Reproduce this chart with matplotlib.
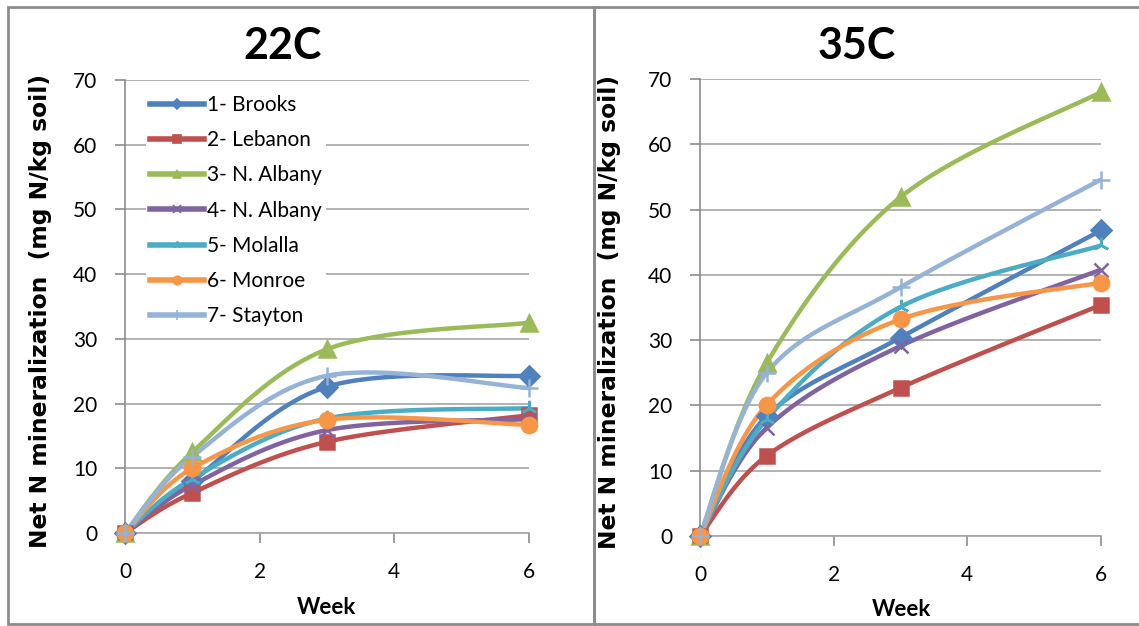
import numpy as np
import matplotlib
matplotlib.use("Agg")
import matplotlib.pyplot as plt
from matplotlib.lines import Line2D
from matplotlib.patches import Rectangle

weeks = [0, 1, 3, 6]
sites = ['1- Brooks', '2- Lebanon', '3- N. Albany', '4- N. Albany',
         '5- Molalla', '6- Monroe', '7- Stayton']

n22 = [
    [0, 8.0, 22.6, 24.3],
    [0, 6.2, 14.1, 18.2],
    [0, 12.5, 28.4, 32.5],
    [0, 7.4, 15.9, 17.6],
    [0, 8.4, 17.7, 19.3],
    [0, 10.0, 17.5, 16.7],
    [0, 11.8, 24.3, 22.4],
]
n35 = [
    [0, 18.4, 30.4, 46.8],
    [0, 12.3, 22.7, 35.4],
    [0, 26.5, 51.9, 68.0],
    [0, 16.6, 29.1, 40.8],
    [0, 17.9, 35.1, 44.5],
    [0, 20.1, 33.2, 38.8],
    [0, 25.0, 38.1, 54.6],
]

colors = ['#4F81BD', '#C0504D', '#9BBB59', '#8064A2', '#4BACC6', '#F79646', '#95B3D7']
markers = ['D', 's', '^', 'x', (3, 2, 0), 'o', '+']
msizes = [10, 10, 11, 10, 11, 11, 13]


def smooth(x, y, n=30):
    # excel style smoothed line (catmull-rom bezier)
    pts = np.column_stack([x, y]).astype(float)
    P = np.vstack([pts[0], pts, pts[-1]])
    t = np.linspace(0, 1, n)[:, None]
    out = []
    for i in range(1, len(P) - 2):
        p0, p1, p2, p3 = P[i - 1], P[i], P[i + 1], P[i + 2]
        c1 = p1 + (p2 - p0) / 6
        c2 = p2 - (p3 - p1) / 6
        seg = (1 - t) ** 3 * p1 + 3 * (1 - t) ** 2 * t * c1 + 3 * (1 - t) * t ** 2 * c2 + t ** 3 * p2
        out.append(seg)
    return np.vstack(out)


fig = plt.figure(figsize=(11.39, 6.26), dpi=100)

# panel frames
fig.patches.append(Rectangle((8 / 1139, 1 - 624 / 626), 586 / 1139, 617 / 626,
                             transform=fig.transFigure, fill=False, ec='#8c8c8c', lw=2))
fig.patches.append(Rectangle((594 / 1139, 1 - 624 / 626), 560 / 1139, 617 / 626,
                             transform=fig.transFigure, fill=False, ec='#8c8c8c', lw=2))

ax1 = fig.add_axes([125 / 1139, 1 - 533 / 626, 404 / 1139, 453 / 626])
ax2 = fig.add_axes([700 / 1139, 1 - 536 / 626, 401 / 1139, 457 / 626])

for ax, data, title, tx in [(ax1, n22, '22C', 283), (ax2, n35, '35C', 857)]:
    for vals, c, m, ms in zip(data, colors, markers, msizes):
        xy = smooth(weeks, vals)
        ax.plot(xy[:, 0], xy[:, 1], color=c, lw=3.2, solid_capstyle='round', zorder=3)
        ax.plot(weeks, vals, ls='none', marker=m, ms=ms, color=c, mec=c,
                mew=1.8, clip_on=False, zorder=4)
    ax.set_xlim(0, 6)
    ax.set_ylim(0, 70)
    ax.set_xticks([0, 2, 4, 6])
    ax.set_yticks(range(0, 71, 10))
    ax.grid(axis='y', color='#a6a6a6', lw=1.2)
    ax.set_axisbelow(True)
    for s in ['top', 'right']:
        ax.spines[s].set_visible(False)
    ax.spines['left'].set_color('#8c8c8c')
    ax.spines['bottom'].set_color('#a6a6a6')
    ax.spines['left'].set_linewidth(1.2)
    ax.spines['bottom'].set_linewidth(1.2)
    ax.tick_params(axis='x', length=7, width=1.2, color='#8c8c8c', pad=14,
                   labelsize=15)
    ax.tick_params(axis='y', length=7, width=1.2, color='#8c8c8c', pad=13,
                   labelsize=15)
    for lab in ax.get_xticklabels() + ax.get_yticklabels():
        lab.set_fontfamily('Lato')
    ax.set_ylabel('Net N mineralization  (mg N/kg soil)', fontsize=16.8,
                  fontweight='bold', fontfamily='DejaVu Sans')
    fig.text(tx / 1139, 1 - 46 / 626, title, ha='center', va='center',
             fontsize=31, fontweight='bold', fontfamily='Lato')

ax1.yaxis.set_label_coords(-0.181, 0.49)
ax2.yaxis.set_label_coords(-0.197, 0.49)
fig.text(326 / 1139, 1 - 607 / 626, 'Week', ha='center', va='center',
         fontsize=16, fontweight='bold', fontfamily='Lato')
fig.text(901 / 1139, 1 - 610 / 626, 'Week', ha='center', va='center',
         fontsize=16, fontweight='bold', fontfamily='Lato')

handles = [Line2D([], [], color=c, lw=4, marker=m, ms=ms * 0.55, mec=c, mew=1.2)
           for c, m, ms in zip(colors, markers, msizes)]
leg = ax1.legend(handles, sites, loc='upper left', bbox_to_anchor=(0.052, 0.976),
                 frameon=True, fancybox=False, edgecolor='none', framealpha=1,
                 prop={'family': 'Lato', 'size': 15}, handlelength=2.6,
                 handletextpad=0.15, labelspacing=0.73, borderpad=0.2,
                 borderaxespad=0)
leg.set_zorder(5)

fig.savefig('out.png', dpi=100)
